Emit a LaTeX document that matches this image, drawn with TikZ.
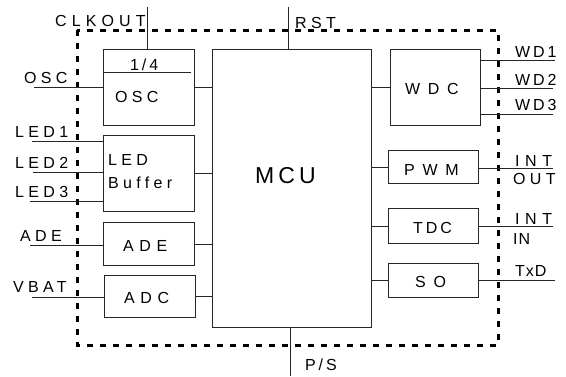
\documentclass[tikz,border=0pt]{standalone}
\usepackage{fontspec}
\setmainfont{Liberation Sans}
\newfontfamily\lsa[LetterSpace=6]{Liberation Sans}
\newfontfamily\lsb[LetterSpace=18]{Liberation Sans}
\newfontfamily\lsc[LetterSpace=27]{Liberation Sans}
\newfontfamily\lsd[LetterSpace=35]{Liberation Sans}
\newfontfamily\lse[LetterSpace=48]{Liberation Sans}
\newfontfamily\lsf[LetterSpace=32]{Liberation Sans}
\tikzset{
  ln/.style={line width=0.9pt, draw=black!85},
  blk/.style={ln, anchor=north west, inner sep=0pt},
  txt/.style={anchor=base west, inner sep=0pt, font=\fontsize{16}{19}\selectfont},
  border/.style={line width=3pt, dash pattern=on 6pt off 7pt}
}
\begin{document}
\begin{tikzpicture}[x=1pt,y=-1pt]
\useasboundingbox (0,0) rectangle (566,376);
% dashed boundary
\draw[border] (77,30) rectangle (498,345);
% blocks
\node[blk, minimum width=91pt, minimum height=76pt] (osc) at (103,49) {};
\node[blk, minimum width=91pt, minimum height=76pt] (led) at (103,135) {};
\node[blk, minimum width=91pt, minimum height=43pt] (ade) at (103,222) {};
\node[blk, minimum width=91pt, minimum height=42pt] (adc) at (104,275) {};
\node[blk, minimum width=159pt, minimum height=278pt] (mcu) at (212,49) {};
\node[blk, minimum width=90pt, minimum height=76pt] (wdc) at (390,49) {};
\node[blk, minimum width=90pt, minimum height=33pt] (pwm) at (388,150) {};
\node[blk, minimum width=90pt, minimum height=35pt] (tdc) at (388,208) {};
\node[blk, minimum width=90pt, minimum height=34pt] (so) at (388,263) {};
% divider in OSC box
\coordinate (divR) at (191,72);
\draw[ln] (osc.west |- divR) -- (divR);
% texts in blocks
\node[txt] (t14) at (130,70) {\lsb 1/4};
\node[txt] (tosc) at (115,102) {\lsc OSC};
\node[txt] (tled) at (108,165) {\lsc LED};
\node[txt] (tbuf) at (108,188) {\lsc Buffer};
\node[txt] (tade) at (123,251) {\lsd ADE};
\node[txt] (tadc) at (124,303) {\lsd ADC};
\node[txt, font=\fontsize{23}{27}\selectfont] (tmcu) at (255,183) {\lsb MCU};
\node[txt] (twdc) at (405,94) {\lse WDC};
\node[txt] (tpwm) at (404,175) {\lse PWM};
\node[txt] (ttdc) at (413,233) {\lsb TDC};
\node[txt] (tso) at (415,287) {\lse SO};
% internal connections to MCU
\draw[ln] (osc.east) -- (osc.east -| mcu.west);
\draw[ln] (led.east) -- (led.east -| mcu.west);
\draw[ln] (ade.east) -- (ade.east -| mcu.west);
\draw[ln] (adc.east) -- (adc.east -| mcu.west);
\draw[ln] (wdc.west) -- (wdc.west -| mcu.east);
\draw[ln] (pwm.west) -- (pwm.west -| mcu.east);
\draw[ln] (tdc.west) -- (tdc.west -| mcu.east);
\draw[ln] (so.west) -- (so.west -| mcu.east);
% external pins, left
\coordinate (pOSC) at (34,87);
\coordinate (pL1) at (32,141);
\coordinate (pL2) at (33,172);
\coordinate (pL3) at (30,201);
\coordinate (pADE) at (30,245);
\coordinate (pVB) at (32,297);
\draw[ln] (pOSC) -- (pOSC -| osc.west);
\draw[ln] (pL1) -- (pL1 -| led.west);
\draw[ln] (pL2) -- (pL2 -| led.west);
\draw[ln] (pL3) -- (pL3 -| led.west);
\draw[ln] (pADE) -- (pADE -| ade.west);
\draw[ln] (pVB) -- (pVB -| adc.west);
\node[txt] (lOSC) at (24,83) {\lsc OSC};
\node[txt] (lL1) at (15,137) {\lsc LED1};
\node[txt] (lL2) at (15,168) {\lsc LED2};
\node[txt] (lL3) at (15,197) {\lsc LED3};
\node[txt] (lADE) at (20,241) {\lsc ADE};
\node[txt] (lVB) at (13,292) {\lsc VBAT};
% top and bottom pins
\coordinate (pCLK) at (147,7);
\coordinate (pRST) at (288,7);
\coordinate (pPS) at (290,376);
\draw[ln] (pCLK) -- (pCLK |- osc.north);
\draw[ln] (pRST) -- (pRST |- mcu.north);
\draw[ln] (pPS |- mcu.south) -- (pPS);
\node[txt] (lCLK) at (55,26) {\lsf CLKOUT};
\node[txt] (lRST) at (295,28) {\lsc RST};
\node[txt] (lPS) at (305,370) {\lsb P/S};
% external pins, right
\coordinate (pW1) at (555,60);
\coordinate (pW2) at (553,88);
\coordinate (pW3) at (553,114);
\coordinate (pIO) at (553,168);
\coordinate (pII) at (553,226);
\coordinate (pTX) at (555,280);
\draw[ln] (pW1 -| wdc.east) -- (pW1);
\draw[ln] (pW2 -| wdc.east) -- (pW2);
\draw[ln] (pW3 -| wdc.east) -- (pW3);
\draw[ln] (pIO -| pwm.east) -- (pIO);
\draw[ln] (pII -| tdc.east) -- (pII);
\draw[ln] (pTX -| so.east) -- (pTX);
\node[txt] (lW1) at (515,57) {\lsb WD1};
\node[txt] (lW2) at (515,85) {\lsb WD2};
\node[txt] (lW3) at (515,110) {\lsb WD3};
\node[txt] (lINT1) at (515,166) {\lsd INT};
\node[txt] (lOUT) at (513,184) {\lsc OUT};
\node[txt] (lINT2) at (515,224) {\lsd INT};
\node[txt] (lIN) at (513,244) {\lsa IN};
\node[txt] (lTX) at (515,276) {\lsa TxD};
\end{tikzpicture}
\end{document}
